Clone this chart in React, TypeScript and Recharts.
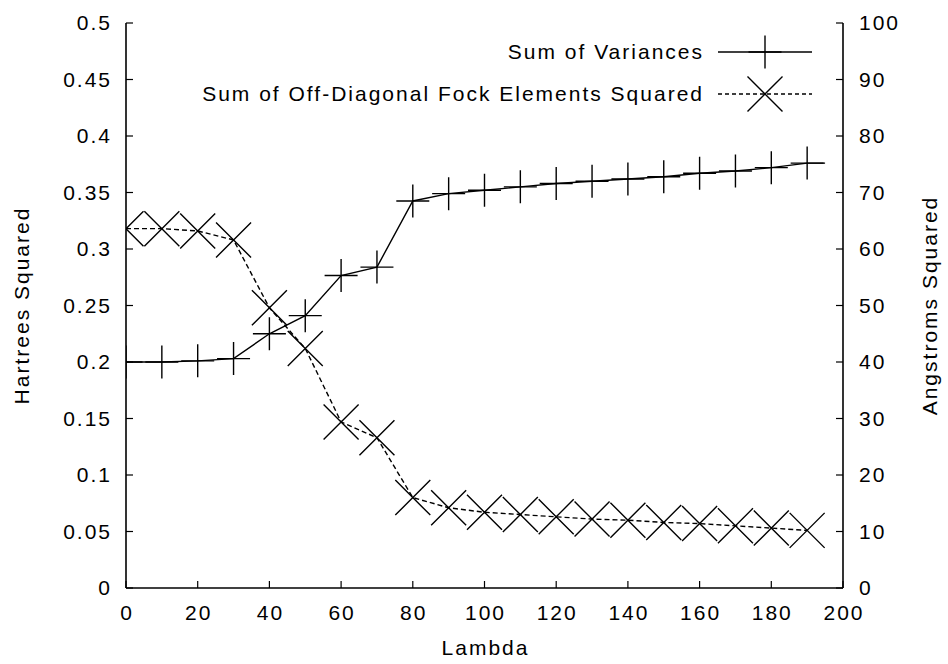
import React from 'react';
import { LineChart, Line, XAxis, YAxis } from 'recharts';

// ---- data ----
const lambdaTicks = [0, 20, 40, 60, 80, 100, 120, 140, 160, 180, 200];
const hartreeTicks = [0, 0.05, 0.1, 0.15, 0.2, 0.25, 0.3, 0.35, 0.4, 0.45, 0.5];
const angstromTicks = [0, 10, 20, 30, 40, 50, 60, 70, 80, 90, 100];

// Sum of Variances (Angstroms Squared, right axis)
const varianceLambda = [0, 10, 20, 30, 40, 50, 60, 70, 80, 90, 100, 110, 120, 130, 140, 150, 160, 170, 180, 190, 195];
const varianceValues = [40.0, 40.0, 40.2, 40.6, 45.0, 48.2, 55.3, 56.8, 68.5, 69.8, 70.4, 71.0, 71.6, 72.0, 72.4, 72.8, 73.4, 73.8, 74.4, 75.2, 75.2];

// Sum of Off-Diagonal Fock Elements Squared (Hartrees Squared, left axis)
const fockLambda = [0, 10, 20, 30, 40, 50, 60, 70, 80, 90, 100, 110, 120, 130, 140, 150, 160, 170, 180, 190];
const fockValues = [0.318, 0.318, 0.316, 0.308, 0.248, 0.212, 0.147, 0.133, 0.080, 0.071, 0.067, 0.065, 0.063, 0.061, 0.060, 0.058, 0.057, 0.055, 0.053, 0.051];

const seriesNames = ['Sum of Variances', 'Sum of Off-Diagonal Fock Elements Squared'];
const axisTitles = { x: 'Lambda', left: 'Hartrees Squared', right: 'Angstroms Squared' };

const varianceData = varianceLambda.map((l, i) => ({ lambda: l, variance: varianceValues[i] }));
const fockData = fockLambda.map((l, i) => ({ lambda: l, fock: fockValues[i] }));

// ---- styles ----
const W = 948;
const H = 664;
const FONT = '"Liberation Sans", Arial, Helvetica, sans-serif';
const textStyle: React.CSSProperties = { fontFamily: FONT, fontSize: 21, letterSpacing: 2.0, fill: '#000' };
const PLUS = 16.5;
const CROSS = 17.5;

const plusPath = (cx: number, cy: number) =>
  `M${cx - PLUS},${cy}H${cx + PLUS}M${cx},${cy - PLUS}V${cy + PLUS}`;
const crossPath = (cx: number, cy: number) =>
  `M${cx - CROSS},${cy - CROSS}L${cx + CROSS},${cy + CROSS}M${cx - CROSS},${cy + CROSS}L${cx + CROSS},${cy - CROSS}`;

const PlusDot = (p: any) => {
  if (p.index === varianceData.length - 1 || p.cx == null) return <g key={`pv-${p.index}`} />;
  return <path key={`pv-${p.index}`} d={plusPath(p.cx, p.cy)} stroke="#000" strokeWidth={1.4} fill="none" />;
};
const CrossDot = (p: any) => {
  if (p.cx == null) return <g key={`cf-${p.index}`} />;
  return <path key={`cf-${p.index}`} d={crossPath(p.cx, p.cy)} stroke="#000" strokeWidth={1.4} fill="none" />;
};

const XTick = (p: any) => (
  <text x={p.x + 1} y={p.y} dy="0.71em" textAnchor="middle" style={textStyle}>
    {p.payload.value}
  </text>
);
const LeftTick = (p: any) => (
  <text x={p.x} y={p.y} dy="0.355em" textAnchor="end" style={textStyle}>
    {p.payload.value}
  </text>
);
const RightTick = (p: any) => (
  <text x={p.x} y={p.y} dy="0.355em" textAnchor="start" style={textStyle}>
    {p.payload.value}
  </text>
);
const EmptyTick = () => <g />;

const axisLine = { stroke: '#000', strokeWidth: 1.6 };
const tickLine = { stroke: '#000', strokeWidth: 1.2 };

const Legend = () => {
  const rows = [
    { name: seriesNames[0], y: 52, dash: undefined as string | undefined, marker: plusPath },
    { name: seriesNames[1], y: 94, dash: '4 3', marker: crossPath },
  ];
  return (
    <svg width={W} height={H} style={{ position: 'absolute', left: 0, top: 0, pointerEvents: 'none' }}>
      {rows.map((r) => (
        <g key={r.name}>
          <text x={704} y={r.y} dy="0.355em" textAnchor="end" style={textStyle}>
            {r.name}
          </text>
          <line x1={718} x2={812} y1={r.y} y2={r.y} stroke="#000" strokeWidth={1.4} strokeDasharray={r.dash} />
          <path d={r.marker(765, r.y)} stroke="#000" strokeWidth={1.4} fill="none" />
        </g>
      ))}
    </svg>
  );
};

export default function App() {
  return (
    <div style={{ position: 'absolute', left: 0, top: 0, width: W, height: H, background: '#fff' }}>
      <LineChart width={W} height={H} margin={{ top: 23, right: 0, bottom: 0, left: 0 }}>
        <XAxis
          xAxisId="bottom"
          dataKey="lambda"
          type="number"
          domain={[0, 200]}
          ticks={lambdaTicks}
          interval={0}
          orientation="bottom"
          height={76}
          tickSize={-7}
          tickMargin={24}
          axisLine={axisLine}
          tickLine={tickLine}
          tick={XTick}
          allowDataOverflow
          label={{
            content: (p: any) => {
              const vb = p.viewBox || {};
              return (
                <text x={vb.x + vb.width / 2 + 1} y={vb.y + 60} dy="0.355em" textAnchor="middle" style={textStyle}>
                  {axisTitles.x}
                </text>
              );
            },
          }}
        />
        <XAxis
          xAxisId="top"
          dataKey="lambda"
          type="number"
          domain={[0, 200]}
          ticks={lambdaTicks}
          interval={0}
          orientation="top"
          height={0}
          tickSize={-7}
          axisLine={axisLine}
          tickLine={tickLine}
          tick={EmptyTick}
          allowDataOverflow
        />
        <YAxis
          yAxisId="left"
          type="number"
          domain={[0, 0.5]}
          ticks={hartreeTicks}
          interval={0}
          orientation="left"
          width={126}
          tickSize={-7}
          tickMargin={21}
          axisLine={axisLine}
          tickLine={tickLine}
          tick={LeftTick}
          allowDataOverflow
          label={{
            content: (p: any) => {
              const vb = p.viewBox || {};
              const cx = vb.x + 22;
              const cy = vb.y + vb.height / 2;
              return (
                <text x={cx} y={cy} dy="0.355em" textAnchor="middle" transform={`rotate(-90 ${cx} ${cy})`} style={textStyle}>
                  {axisTitles.left}
                </text>
              );
            },
          }}
        />
        <YAxis
          yAxisId="right"
          type="number"
          domain={[0, 100]}
          ticks={angstromTicks}
          interval={0}
          orientation="right"
          width={105}
          tickSize={-7}
          tickMargin={23}
          axisLine={axisLine}
          tickLine={tickLine}
          tick={RightTick}
          allowDataOverflow
          label={{
            content: (p: any) => {
              const vb = p.viewBox || {};
              const cx = vb.x + 87;
              const cy = vb.y + vb.height / 2;
              return (
                <text x={cx} y={cy} dy="0.355em" textAnchor="middle" transform={`rotate(-90 ${cx} ${cy})`} style={textStyle}>
                  {axisTitles.right}
                </text>
              );
            },
          }}
        />
        <Line
          data={varianceData}
          xAxisId="bottom"
          yAxisId="right"
          dataKey="variance"
          name={seriesNames[0]}
          type="linear"
          stroke="#000"
          strokeWidth={1.4}
          dot={PlusDot}
          activeDot={false}
          isAnimationActive={false}
        />
        <Line
          data={fockData}
          xAxisId="bottom"
          yAxisId="left"
          dataKey="fock"
          name={seriesNames[1]}
          type="linear"
          stroke="#000"
          strokeWidth={1.4}
          strokeDasharray="5 3"
          dot={CrossDot}
          activeDot={false}
          isAnimationActive={false}
        />
      </LineChart>
      <Legend />
    </div>
  );
}
